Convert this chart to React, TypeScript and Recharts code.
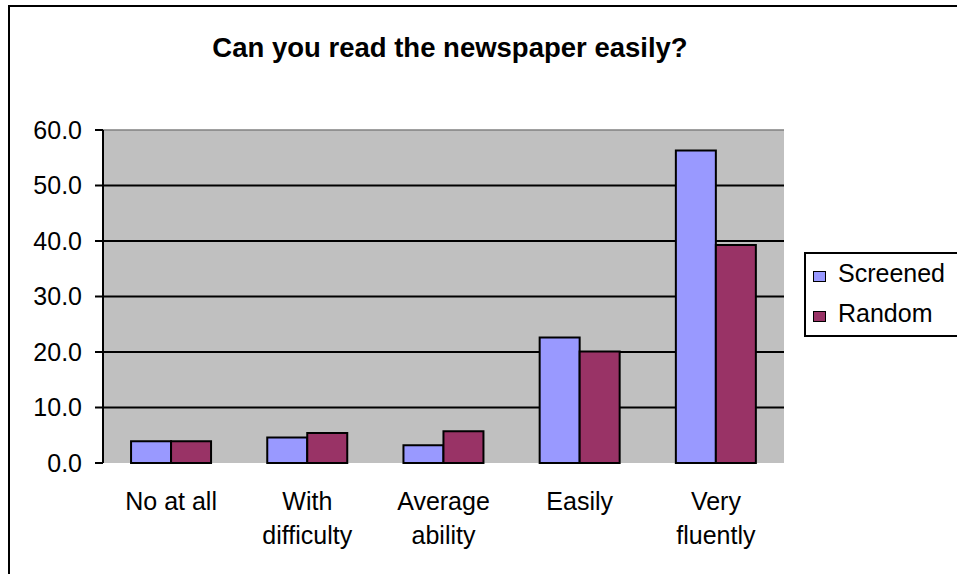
import React from 'react';
import { BarChart, Bar, XAxis, YAxis, CartesianGrid, ReferenceLine, Legend } from 'recharts';

// Survey answers per reading-ability category (percent of respondents)
const categories = ['No at all', 'With\ndifficulty', 'Average\nability', 'Easily', 'Very\nfluently'];
const screened = [3.9, 4.6, 3.2, 22.6, 56.3];
const random = [3.9, 5.4, 5.7, 20.1, 39.3];
const yTicks = [0, 10, 20, 30, 40, 50, 60];
const gridValues = [10, 20, 30, 40, 50];
const seriesNames = ['Screened', 'Random'];
const seriesColors = ['#9999FF', '#993366'];
const title = 'Can you read the newspaper easily?';

const FONT = 'Arial, "Liberation Sans", sans-serif';

const data = categories.map((category, i) => ({
  category,
  [seriesNames[0]]: screened[i],
  [seriesNames[1]]: random[i],
}));

// boundaries between category bands, used for the tick marks on the x axis
const bandEdges = [...categories.map((_, i) => i), categories.length];

const CategoryTick = (props: any) => {
  const { x, y, payload } = props;
  const lines = String(payload.value).split('\n');
  return (
    <text x={x} y={y} textAnchor="middle" fontSize={25} fill="#000">
      {lines.map((line, i) => (
        <tspan key={i} x={x} dy={i === 0 ? 47 : 34}>
          {line}
        </tspan>
      ))}
    </text>
  );
};

// legend entries listed in series order
const LegendBox = () => (
  <div
    style={{
      width: 200,
      height: 85,
      border: '2px solid #000',
      boxSizing: 'border-box',
      background: '#fff',
      position: 'relative',
      fontFamily: FONT,
    }}
  >
    {seriesNames.map((name, i) => (
      <React.Fragment key={name}>
        <span
          style={{
            position: 'absolute',
            left: 7,
            top: 17 + i * 40,
            width: 13,
            height: 11,
            background: seriesColors[i],
            border: '1.5px solid #000',
            boxSizing: 'border-box',
          }}
        />
        <span
          style={{
            position: 'absolute',
            left: 32,
            top: 7 + i * 40,
            fontSize: 25,
            lineHeight: '25px',
            color: '#000',
            whiteSpace: 'nowrap',
          }}
        >
          {name}
        </span>
      </React.Fragment>
    ))}
  </div>
);

export default function App() {
  return (
    <div
      style={{
        position: 'absolute',
        left: 0,
        top: 0,
        width: 957,
        height: 574,
        overflow: 'hidden',
        background: '#fff',
        fontFamily: FONT,
      }}
    >
      <div
        style={{
          position: 'absolute',
          left: 8,
          top: 5,
          width: 1000,
          height: 1000,
          border: '2px solid #000',
          boxSizing: 'border-box',
        }}
      />
      <div style={{ position: 'absolute', left: 0, top: 0 }}>
        <BarChart
          width={957}
          height={574}
          data={data}
          margin={{ top: 130, right: 173, left: 0, bottom: 0 }}
          barCategoryGap="20.6%"
          barGap={0}
        >
          <CartesianGrid
            xAxisId="cat"
            yAxisId="left"
            vertical={false}
            horizontalValues={gridValues}
            stroke="#000"
            strokeWidth={2}
            fill="#C0C0C0"
          />
          <XAxis
            xAxisId="edge"
            type="number"
            domain={[0, categories.length]}
            ticks={bandEdges}
            allowDataOverflow
            height={0}
            tick={false}
            tickSize={8}
            tickLine={{ stroke: '#000', strokeWidth: 2 }}
            axisLine={{ stroke: '#000', strokeWidth: 2 }}
          />
          <XAxis
            xAxisId="cat"
            dataKey="category"
            interval={0}
            height={111}
            tickSize={0}
            tickMargin={0}
            tickLine={false}
            axisLine={false}
            tick={<CategoryTick />}
          />
          <YAxis
            yAxisId="left"
            width={103}
            domain={[0, 60]}
            ticks={yTicks}
            interval={0}
            tickFormatter={(v: number) => v.toFixed(1)}
            tickSize={8}
            tickMargin={13}
            tick={{ fontSize: 25, fill: '#000' }}
            tickLine={{ stroke: '#000', strokeWidth: 2 }}
            axisLine={{ stroke: '#000', strokeWidth: 2 }}
          />
          <YAxis
            yAxisId="right"
            orientation="right"
            width={0}
            domain={[0, 60]}
            tick={false}
            tickLine={false}
            axisLine={{ stroke: '#808080', strokeWidth: 1.5 }}
          />
          <ReferenceLine xAxisId="cat" yAxisId="left" y={60} stroke="#808080" strokeWidth={1.5} />
          <Legend
            layout="vertical"
            align="center"
            verticalAlign="middle"
            content={<LegendBox />}
            wrapperStyle={{ position: 'absolute', left: 804, top: 252, width: 200, height: 85 }}
          />
          {seriesNames.map((name, i) => (
            <Bar
              key={name}
              xAxisId="cat"
              yAxisId="left"
              dataKey={name}
              fill={seriesColors[i]}
              stroke="#000"
              strokeWidth={2}
              isAnimationActive={false}
            />
          ))}
        </BarChart>
      </div>
      <div
        style={{
          position: 'absolute',
          left: 0,
          top: 34,
          width: 900,
          textAlign: 'center',
          fontWeight: 'bold',
          fontSize: 27.5,
          lineHeight: '27.5px',
          color: '#000',
          whiteSpace: 'nowrap',
        }}
      >
        {title}
      </div>
    </div>
  );
}
